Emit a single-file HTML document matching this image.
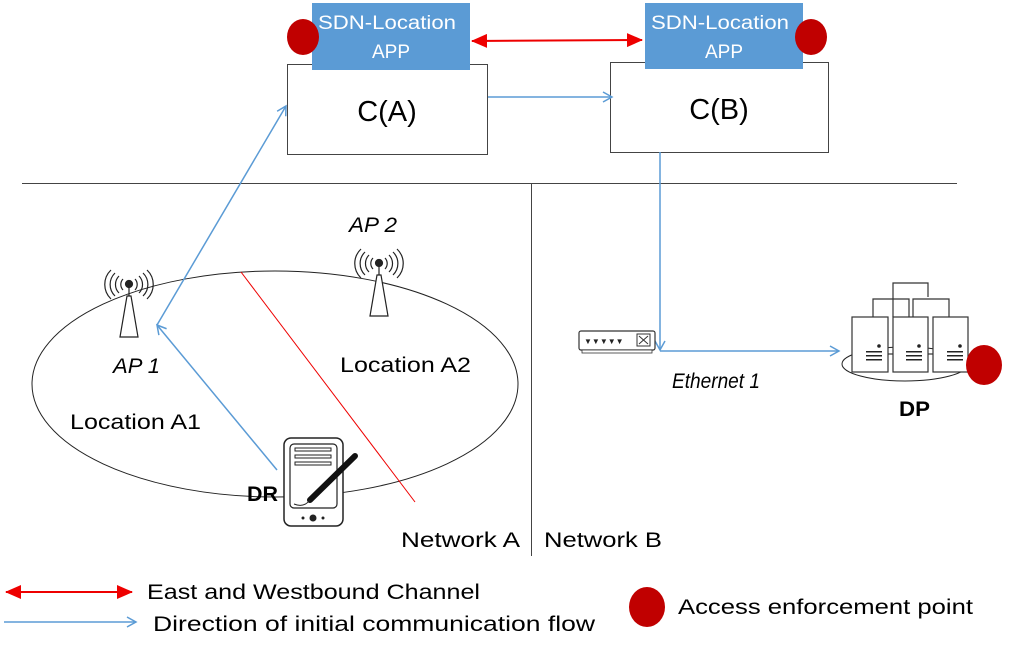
<!DOCTYPE html>
<html><head><meta charset="utf-8"><style>
html,body{margin:0;padding:0;background:#fff;}
svg{display:block;}
text{font-family:"Liberation Sans",sans-serif;}
</style></head><body>
<svg width="1011" height="654" viewBox="0 0 1011 654" xmlns="http://www.w3.org/2000/svg">
<defs>
<marker id="bl" markerWidth="12" markerHeight="12" refX="10" refY="6" orient="auto" markerUnits="userSpaceOnUse"><path d="M1,1 L10,6 L1,11" fill="none" stroke="#5b9bd5" stroke-width="1.5"/></marker>
<marker id="re" markerWidth="16" markerHeight="14" refX="15" refY="7" orient="auto" markerUnits="userSpaceOnUse"><path d="M0,0 L16,7 L0,14 Z" fill="#e00"/></marker>
<marker id="rs" markerWidth="16" markerHeight="14" refX="1" refY="7" orient="auto" markerUnits="userSpaceOnUse"><path d="M16,0 L0,7 L16,14 Z" fill="#e00"/></marker>
</defs>
<!-- controllers -->
<rect x="287.5" y="64.5" width="200" height="90" fill="#fff" stroke="#444"/>
<rect x="610.5" y="62.5" width="218" height="90" fill="#fff" stroke="#444"/>
<rect x="312" y="3" width="158" height="67" fill="#5b9bd5"/>
<rect x="645" y="3" width="158" height="66" fill="#5b9bd5"/>
<text x="318" y="29" font-size="19" fill="#fff" textLength="138" lengthAdjust="spacingAndGlyphs">SDN-Location</text>
<text x="391" y="58" font-size="19" fill="#fff" text-anchor="middle">APP</text>
<text x="651" y="29" font-size="19" fill="#fff" textLength="138" lengthAdjust="spacingAndGlyphs">SDN-Location</text>
<text x="724" y="58" font-size="19" fill="#fff" text-anchor="middle">APP</text>
<ellipse cx="303" cy="37" rx="16" ry="18" fill="#c00000"/>
<ellipse cx="811" cy="37" rx="16" ry="18" fill="#c00000"/>
<text x="387" y="121" font-size="29" text-anchor="middle">C(A)</text>
<text x="719" y="119" font-size="29" text-anchor="middle">C(B)</text>
<line x1="472" y1="41" x2="642" y2="40" stroke="#e00" stroke-width="2" marker-end="url(#re)" marker-start="url(#rs)"/>
<line x1="488" y1="97" x2="612" y2="97" stroke="#5b9bd5" stroke-width="1.5" marker-end="url(#bl)"/>
<!-- separators -->
<line x1="22" y1="183.5" x2="957" y2="183.5" stroke="#444"/>
<line x1="531.5" y1="183" x2="531.5" y2="556" stroke="#444"/>
<!-- ellipse network A -->
<ellipse cx="275" cy="384" rx="243" ry="113" fill="none" stroke="#222"/>
<line x1="241" y1="272" x2="415" y2="502" stroke="#e00" stroke-width="1"/>
<!-- flows -->
<polyline points="277,470 157,325" fill="none" stroke="#5b9bd5" stroke-width="1.5" marker-end="url(#bl)"/>
<polyline points="157,325 286,106" fill="none" stroke="#5b9bd5" stroke-width="1.5" marker-end="url(#bl)"/>
<polyline points="660,152 660,350" fill="none" stroke="#5b9bd5" stroke-width="1.5" marker-end="url(#bl)"/>
<line x1="660" y1="351" x2="839" y2="351" stroke="#5b9bd5" stroke-width="1.5" marker-end="url(#bl)"/>
<!-- antennas -->
<g id="ant1" fill="none" stroke="#222" stroke-width="1.2">
<path d="M120,337 L127,296 L131,296 L138,337 Z" fill="#fff"/>
<line x1="129" y1="284" x2="129" y2="296"/>
<circle cx="129" cy="284" r="3.5" fill="#222"/>
<path d="M123,279 a8,8 0 0 0 0,11 M135,279 a8,8 0 0 1 0,11"/>
<path d="M119,276 a12,12 0 0 0 0,17 M139,276 a12,12 0 0 1 0,17"/>
<path d="M115,273 a16,16 0 0 0 0,23 M143,273 a16,16 0 0 1 0,23"/>
<path d="M111,270 a20,20 0 0 0 0,29 M147,270 a20,20 0 0 1 0,29"/>
</g>
<use href="#ant1" x="250" y="-21"/>
<text x="113" y="373" font-size="21" font-style="italic" textLength="47" lengthAdjust="spacingAndGlyphs">AP 1</text>
<text x="349" y="232" font-size="21" font-style="italic" textLength="48" lengthAdjust="spacingAndGlyphs">AP 2</text>
<text x="340" y="372" font-size="21" textLength="131" lengthAdjust="spacingAndGlyphs">Location A2</text>
<text x="70" y="429" font-size="21" textLength="131" lengthAdjust="spacingAndGlyphs">Location A1</text>
<text x="247" y="501" font-size="21" font-weight="bold" textLength="31" lengthAdjust="spacingAndGlyphs">DR</text>
<!-- device -->
<rect x="284" y="438" width="59" height="88" rx="7" fill="#fff" stroke="#222" stroke-width="1.5"/>
<rect x="290" y="444" width="47" height="64" rx="4" fill="#fff" stroke="#222" stroke-width="1.2"/>
<rect x="295" y="448" width="36" height="3" fill="none" stroke="#222"/>
<rect x="295" y="455" width="36" height="3" fill="none" stroke="#222"/>
<rect x="295" y="462" width="36" height="3" fill="none" stroke="#222"/>
<line x1="355" y1="456" x2="310" y2="500" stroke="#111" stroke-width="6" stroke-linecap="round"/>
<path d="M310,500 q-6,8 -16,4" fill="none" stroke="#222"/>
<circle cx="313" cy="518" r="3.5" fill="#222"/><circle cx="303" cy="518" r="1.5" fill="#222"/><circle cx="323" cy="518" r="1.5" fill="#222"/>
<text x="401" y="547" font-size="21" textLength="119" lengthAdjust="spacingAndGlyphs">Network A</text>
<text x="544" y="547" font-size="21" textLength="118" lengthAdjust="spacingAndGlyphs">Network B</text>
<!-- switch -->
<rect x="579" y="331" width="76" height="19" rx="2" fill="#fff" stroke="#333" stroke-width="1.2"/>
<rect x="582" y="350" width="70" height="3" fill="#fff" stroke="#333" stroke-width="0.8"/>
<text x="584" y="344" font-size="8" fill="#222">▼▼▼▼▼</text>
<rect x="637" y="334" width="13" height="12" fill="#fff" stroke="#333"/>
<path d="M639,336 L648,344 M648,336 L639,344" stroke="#333"/>
<text x="672" y="388" font-size="21" font-style="italic" textLength="88" lengthAdjust="spacingAndGlyphs">Ethernet 1</text>
<!-- servers -->
<ellipse cx="905" cy="364" rx="63" ry="17" fill="none" stroke="#222"/>
<g fill="none" stroke="#333" stroke-width="1.2">
<polyline points="893,317 893,283 928,283 928,297"/>
<polyline points="873,317 873,299 909,299 909,317"/>
<polyline points="913,317 913,299 949,299 949,317"/>
</g>
<g stroke="#333" stroke-width="1.2">
<rect x="852" y="317" width="36" height="55" fill="#fff"/>
<rect x="893" y="317" width="35" height="55" fill="#fff"/>
<rect x="933" y="317" width="35" height="55" fill="#fff"/>
<line x1="888" y1="354" x2="893" y2="354"/><line x1="928" y1="354" x2="933" y2="354"/>
</g>
<g fill="#222">
<circle cx="879" cy="346" r="1.8"/><circle cx="919" cy="346" r="1.8"/><circle cx="960" cy="346" r="1.8"/>
<rect x="866" y="351" width="16" height="1.5"/><rect x="866" y="355" width="16" height="1.5"/><rect x="866" y="359" width="16" height="1.5"/>
<rect x="906" y="351" width="16" height="1.5"/><rect x="906" y="355" width="16" height="1.5"/><rect x="906" y="359" width="16" height="1.5"/>
<rect x="947" y="351" width="16" height="1.5"/><rect x="947" y="355" width="16" height="1.5"/><rect x="947" y="359" width="16" height="1.5"/>
</g>
<ellipse cx="984" cy="365" rx="18" ry="20" fill="#c00000"/>
<text x="899" y="416" font-size="21" font-weight="bold" textLength="31" lengthAdjust="spacingAndGlyphs">DP</text>
<!-- legend -->
<line x1="6" y1="592" x2="132" y2="592" stroke="#e00" stroke-width="2" marker-end="url(#re)" marker-start="url(#rs)"/>
<text x="147" y="599" font-size="21" textLength="333" lengthAdjust="spacingAndGlyphs">East and Westbound Channel</text>
<line x1="4" y1="622" x2="136" y2="622" stroke="#5b9bd5" stroke-width="1.5" marker-end="url(#bl)"/>
<text x="153" y="631" font-size="21" textLength="442" lengthAdjust="spacingAndGlyphs">Direction of initial communication flow</text>
<ellipse cx="647" cy="607" rx="18" ry="20" fill="#c00000"/>
<text x="678" y="614" font-size="21" textLength="295" lengthAdjust="spacingAndGlyphs">Access enforcement point</text>
</svg>
</body></html>
